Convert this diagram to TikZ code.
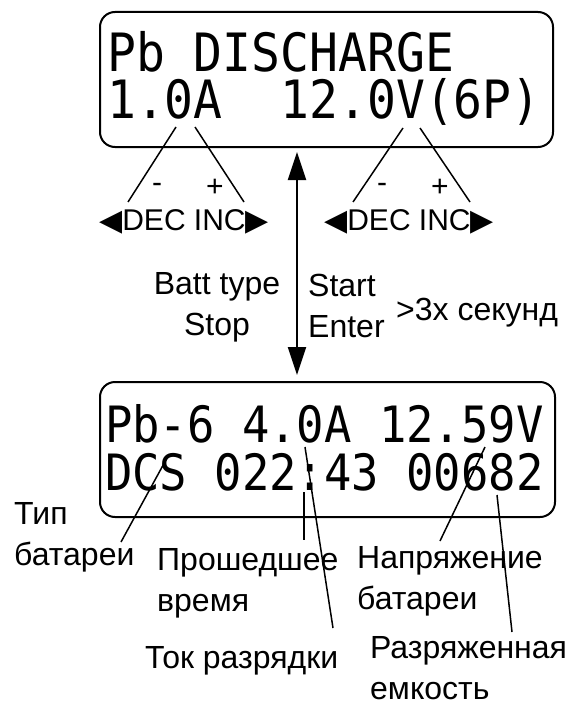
\documentclass[tikz,border=0pt]{standalone}
\usepackage{fontspec}
\usetikzlibrary{arrows.meta}
\setmainfont{Liberation Sans}
\newfontfamily\lcdfont{DejaVu Sans Mono}
\newfontfamily\symfont{DejaVu Sans}
\newcommand\lcdrow[1]{\scalebox{1}[1.1]{#1}}

\begin{document}
\begin{tikzpicture}[x=1pt,y=-1pt,
  lbl/.style={font=\fontsize{32}{41}\selectfont,inner sep=0pt},
  key/.style={font=\fontsize{30}{36}\selectfont,inner sep=0pt},
  lcdtop/.style={font=\fontsize{48}{50}\lcdfont,inner sep=0pt,anchor=base west},
  lcdbot/.style={font=\fontsize{45.5}{50}\lcdfont,inner sep=0pt,anchor=base west},
  screen/.style={draw,line width=2pt,rounded corners=15pt,inner sep=0pt},
  lead/.style={line width=1.5pt}]
\useasboundingbox (0,0) rectangle (578,706);

% upper display: settings
\node[screen,minimum width=453pt,minimum height=135pt] (upper) at (326.5,79.5) {};
\node[lcdtop] (up1) at (107,72) {\lcdrow{Pb DISCHARGE}};
\node[lcdtop] (up2) at (107,118) {\lcdrow{1.0A\ \ 12.0V(6P)}};

\node[key] (minA) at (157,188) {-};
\node[key] (plusA) at (215,188) {+};
\node[key] (minV) at (382,188) {-};
\node[key] (plusV) at (440,188) {+};
\node[key] (keysA) at (184,222) {{\symfont ◀}DEC INC{\symfont ▶}};
\node[key] (keysV) at (409,222) {{\symfont ◀}DEC INC{\symfont ▶}};

\coordinate (a1) at (176,127); \coordinate (a1e) at (128,202);
\coordinate (a2) at (195,127); \coordinate (a2e) at (244,202);
\coordinate (v1) at (403,128); \coordinate (v1e) at (353,202);
\coordinate (v2) at (420,128); \coordinate (v2e) at (470,202);
\foreach \s/\e in {a1/a1e,a2/a2e,v1/v1e,v2/v2e}
  \draw[lead] (\s) -- (\e);

% switching between the two displays
\coordinate (arrUp) at (297,152);
\coordinate (arrDn) at (297,375);
\draw[line width=2pt,{Triangle[width=18pt,length=28pt]}-{Triangle[width=18pt,length=28pt]}] (arrUp) -- (arrDn);
\node[lbl,align=center,anchor=base] (batt) at (217,335) {Batt type\\Stop};
\node[lbl,align=left,anchor=base west] (start) at (308,337) {Start\\Enter};
\node[lbl,anchor=base west] (hold) at (396,320) {>3x секунд};

% lower display: running
\node[screen,minimum width=455pt,minimum height=135pt] (lower) at (327.5,449.5) {};
\node[lcdbot] (lo1) at (105,442) {\lcdrow{Pb-6 4.0A 12.59V}};
\node[lcdbot] (lo2) at (105,490) {\lcdrow{DCS 022:43 00682}};

\node[lbl,align=left,anchor=base west] (type) at (14,565) {Тип\\батареи};
\node[lbl,align=left,anchor=base west] (time) at (157,611) {Прошедшее\\время};
\node[lbl,align=left,anchor=base west] (volt) at (357,609) {Напряжение\\батареи};
\node[lbl,anchor=base west] (curr) at (145,668) {Ток разрядки};
\node[lbl,align=left,anchor=base west] (cap) at (370,699) {Разряженная\\емкость};

\coordinate (p1) at (167,458); \coordinate (p1e) at (121,542);
\coordinate (p2) at (304,492); \coordinate (p2e) at (304,540);
\coordinate (p3) at (305,447); \coordinate (p3e) at (333,628);
\coordinate (p4) at (485,447); \coordinate (p4e) at (440,541);
\coordinate (p5) at (497,495); \coordinate (p5e) at (512,632);
\foreach \s/\e in {p1/p1e,p2/p2e,p3/p3e,p4/p4e,p5/p5e}
  \draw[lead] (\s) -- (\e);
\end{tikzpicture}
\end{document}
